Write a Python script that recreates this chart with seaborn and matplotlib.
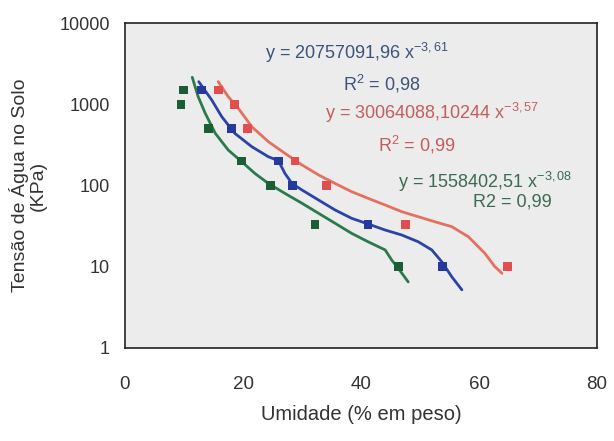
import matplotlib
matplotlib.use("Agg")
import matplotlib.pyplot as plt
import seaborn as sns
import pandas as pd

# ---- data ----
green_tension = [1500, 1000, 500, 200, 100, 33, 10]
green_moist = [9.9, 9.5, 14.1, 19.8, 24.6, 32.2, 46.3]

blue_tension = [1500, 500, 200, 100, 33, 10]
blue_moist = [12.9, 18.1, 26.0, 28.4, 41.2, 53.8]

red_tension = [1500, 1000, 500, 200, 100, 33, 10]
red_moist = [15.9, 18.6, 20.8, 28.8, 34.2, 47.6, 64.8]

# smoothed curves
green_curve_x = [11.4, 12.4, 13.6, 15.3, 17.5, 19.8, 22.0, 24.3, 27.1, 30.0, 32.8,
                 35.6, 38.4, 41.2, 44.1, 45.2, 46.3, 48.0]
green_curve_y = [2147, 1239, 774, 439, 273, 196, 141, 106, 80, 60.4, 45.5,
                 34.3, 25.8, 20.3, 16.1, 12.1, 9.6, 6.5]

blue_curve_x = [12.5, 14.7, 16.4, 18.6, 21.5, 24.3, 26.0, 27.1, 28.3, 30.0, 32.8,
                35.6, 38.4, 41.2, 44.1, 46.9, 49.7, 52.0, 53.7, 55.4, 57.1]
blue_curve_y = [1895, 1128, 703, 439, 300, 226, 202, 141, 106, 88, 66.3,
                50, 39.5, 33.6, 28.3, 24.6, 20.3, 16.1, 11.5, 7.5, 5.2]

red_curve_x = [15.8, 17.5, 19.2, 21.5, 24.3, 27.1, 30.0, 32.8, 35.6, 38.4, 41.2,
               44.1, 46.9, 49.7, 52.5, 55.4, 58.2, 61.0, 62.7, 63.9]
red_curve_y = [1895, 1239, 891, 529, 346, 249, 179, 135, 106, 84, 69.5,
               57.5, 47.6, 41.3, 35.8, 31.1, 23.4, 14.6, 10.0, 8.3]

x_ticks = [0, 20, 40, 60, 80]
y_ticks = [1, 10, 100, 1000, 10000]
y_tick_labels = ["1", "10", "100", "1000", "10000"]

eq_blue = r"y = 20757091,96 x$^{-3,61}$"
r2_blue = r"R$^{2}$ = 0,98"
eq_red = r"y = 30064088,10244 x$^{-3,57}$"
r2_red = r"R$^{2}$ = 0,99"
eq_green = r"y = 1558402,51 x$^{-3,08}$"
r2_green = "R2 = 0,99"

xlabel = "Umidade (% em peso)"
ylabel = "Tensão de Água no Solo\n(KPa)"

# ---- colours ----
c_green_pt, c_green_ln, c_green_tx = "#1b5e35", "#2a7a4c", "#3b6b52"
c_blue_pt, c_blue_ln, c_blue_tx = "#24399a", "#2c43a6", "#3d5378"
c_red_pt, c_red_ln, c_red_tx = "#e04e4e", "#e4705f", "#c45e5e"

sns.set_style("white")
plt.rcParams["font.family"] = ["Liberation Sans", "DejaVu Sans"]
plt.rcParams["mathtext.fontset"] = "custom"
plt.rcParams["mathtext.rm"] = "Liberation Sans"
plt.rcParams["mathtext.it"] = "Liberation Sans"
plt.rcParams["mathtext.default"] = "regular"

pts = pd.concat([
    pd.DataFrame({"x": green_moist, "y": green_tension, "s": "g"}),
    pd.DataFrame({"x": blue_moist, "y": blue_tension, "s": "b"}),
    pd.DataFrame({"x": red_moist, "y": red_tension, "s": "r"}),
])
curves = pd.concat([
    pd.DataFrame({"x": green_curve_x, "y": green_curve_y, "s": "g"}),
    pd.DataFrame({"x": blue_curve_x, "y": blue_curve_y, "s": "b"}),
    pd.DataFrame({"x": red_curve_x, "y": red_curve_y, "s": "r"}),
])

fig = plt.figure(figsize=(6.14, 4.41), dpi=100)
ax = fig.add_axes([125/614, 1-348/441, (597-125)/614, (348-23)/441])
ax.set_facecolor("#ececec")

sns.lineplot(data=curves, x="x", y="y", hue="s", sort=False, estimator=None,
             palette={"g": c_green_ln, "b": c_blue_ln, "r": c_red_ln},
             linewidth=2.0, legend=False, ax=ax)
for line in ax.get_lines():
    line.set_solid_joinstyle("round")
    line.set_solid_capstyle("round")
sns.scatterplot(data=pts, x="x", y="y", hue="s", marker="s", s=40, linewidth=0,
                palette={"g": c_green_pt, "b": c_blue_pt, "r": c_red_pt},
                legend=False, ax=ax, zorder=5)

ax.set_yscale("log")
ax.set_xlim(0, 80)
ax.set_ylim(1, 10000)
ax.set_xticks(x_ticks)
ax.set_xticklabels([str(t) for t in x_ticks])
ax.set_yticks(y_ticks)
ax.set_yticklabels(y_tick_labels)
ax.minorticks_off()
ax.tick_params(axis="y", direction="out", length=7, width=1, colors="#222222",
               labelsize=13, labelcolor="#333333", pad=4)
ax.tick_params(axis="x", direction="inout", length=8, width=1, colors="#222222",
               labelsize=13.5, labelcolor="#333333", pad=16)
for sp in ax.spines.values():
    sp.set_visible(True)
    sp.set_color("#222222")
    sp.set_linewidth(1.2)

ax.set_xlabel(xlabel, fontsize=14.5, color="#333333", labelpad=9)
ax.set_ylabel(ylabel, fontsize=14, color="#333333", linespacing=1.1)
ax.yaxis.set_label_coords(-0.165, 0.5)

def ftext(px, py, s, color, ha="left", size=13):
    fig.text(px/614, 1-py/441, s, color=color, ha=ha, va="center", fontsize=size)

ftext(265, 53, eq_blue, c_blue_tx)
ftext(382, 84, r2_blue, c_blue_tx, ha="center")
ftext(325, 113, eq_red, c_red_tx)
ftext(417, 145, r2_red, c_red_tx, ha="center")
ftext(398, 182, eq_green, c_green_tx)
ftext(512, 202, r2_green, c_green_tx, ha="center")

fig.savefig("out.png", dpi=100, facecolor="white")
